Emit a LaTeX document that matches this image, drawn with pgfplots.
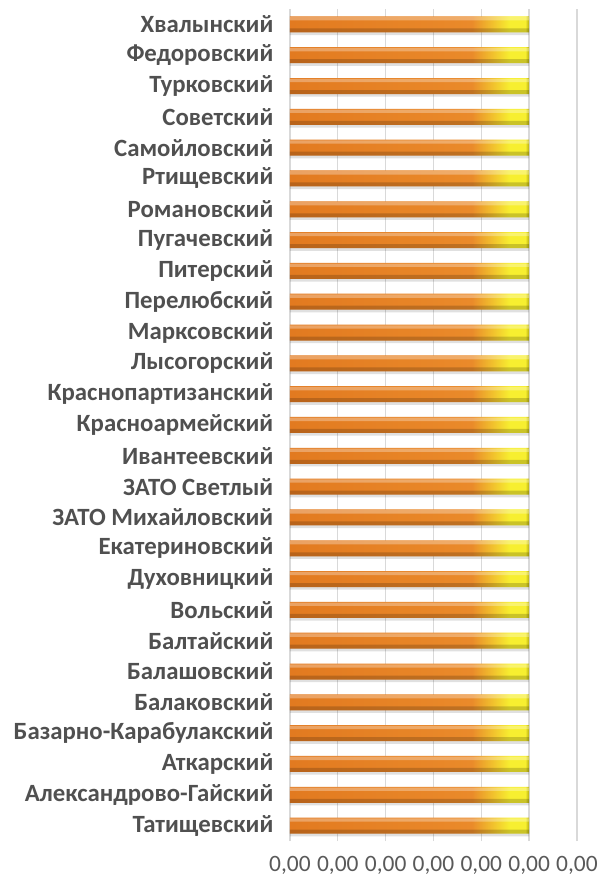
\documentclass[border=0pt]{standalone}
\usepackage{fontspec}
\setmainfont{Carlito}
\usepackage{pgfplots}
\usepackage{pgfplotstable}
\pgfplotsset{compat=1.18}

\definecolor{lbl}{HTML}{505050}
\definecolor{ticklbl}{HTML}{595959}
\definecolor{gridc}{HTML}{D9D9D9}
\definecolor{barorange}{HTML}{E27A20}
\definecolor{barorange2}{HTML}{EA8A2A}
\definecolor{baryellow}{HTML}{F7EF30}
\definecolor{barend}{HTML}{B0A60E}

% left to right: orange body, yellow tip, dark end cap
\pgfdeclarehorizontalshading{barshade}{100bp}{color(0bp)=(barorange); color(25bp)=(barorange); color(63bp)=(barorange2); color(71bp)=(baryellow); color(74.2bp)=(baryellow); color(75bp)=(barend); color(100bp)=(barend)}

% all districts, bottom to top
\pgfplotstableread{
x y
0.0005 0
0.0005 1
0.0005 2
0.0005 3
0.0005 4
0.0005 5
0.0005 6
0.0005 7
0.0005 8
0.0005 9
0.0005 10
0.0005 11
0.0005 12
0.0005 13
0.0005 14
0.0005 15
0.0005 16
0.0005 17
0.0005 18
0.0005 19
0.0005 20
0.0005 21
0.0005 22
0.0005 23
0.0005 24
0.0005 25
0.0005 26
}\data

\begin{document}
\begin{tikzpicture}
\useasboundingbox (-217.5pt,-30.75pt) rectangle (232.5pt,630.75pt);
\begin{axis}[
    width=215.25pt, height=624pt, scale only axis,
    xmin=0, xmax=0.0006, ymin=-0.5, ymax=26.5,
    xtick={0,0.0001,0.0002,0.0003,0.0004,0.0005,0.0006},
    scaled x ticks=false,
    ytick={0,...,26},
    yticklabels={Татищевский, Александрово-Гайский, Аткарский, Базарно-Карабулакский,
      Балаковский, Балашовский, Балтайский, Вольский, Духовницкий, Екатериновский,
      ЗАТО Михайловский, ЗАТО Светлый, Ивантеевский, Красноармейский,
      Краснопартизанский, Лысогорский, Марксовский, Перелюбский, Питерский,
      Пугачевский, Романовский, Ртищевский, Самойловский, Советский, Турковский,
      Федоровский, Хвалынский},
    axis line style={draw=none},
    major tick length=0pt,
    xmajorgrids,
    grid style={draw=gridc, line width=1pt},
    x tick label style={font=\fontsize{17.6}{17.6}\selectfont, text=ticklbl, yshift=-8pt,
      /pgf/number format/.cd, fixed, fixed zerofill, precision=2, use comma, assume math mode=true},
    y tick label style={font=\bfseries\fontsize{18.6}{18.6}\selectfont, text=lbl, xshift=-9pt},
]
% soft shadow
\addplot[xbar, bar width=12pt, bar shift=-2pt, draw=none, fill=black, fill opacity=0.12] table[x=x,y=y] {\data};
% bar body
\addplot[xbar, bar width=12pt, bar shift=0pt, draw=none, shade, shading=barshade] table[x=x,y=y] {\data};
% top highlight
\addplot[xbar, bar width=2.5pt, bar shift=4.2pt, draw=none, fill=white, fill opacity=0.3] table[x=x,y=y] {\data};
% bottom edge
\addplot[xbar, bar width=3pt, bar shift=-4.5pt, draw=none, fill=black, fill opacity=0.18] table[x=x,y=y] {\data};
\end{axis}
\end{tikzpicture}
\end{document}
